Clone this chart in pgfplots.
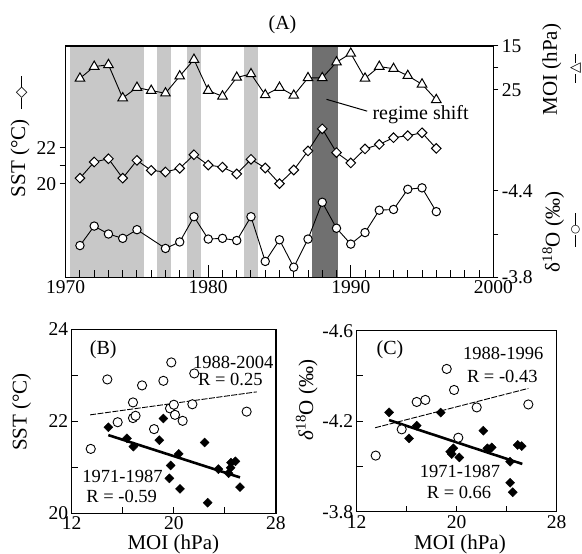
\documentclass[border=0pt]{standalone}
\usepackage{fontspec}
\setmainfont{Liberation Serif}
\newfontfamily\symfont{DejaVu Sans}
\usepackage{pgfplots}
\pgfplotsset{compat=1.18}

\definecolor{bandlight}{RGB}{200,200,200}
\definecolor{banddark}{RGB}{112,112,112}

\newcommand{\ticksize}{\fontsize{19.5}{22}\selectfont}
\newcommand{\txtsize}{\fontsize{20}{23}\selectfont}
\newcommand{\annsize}{\fontsize{18.5}{21}\selectfont}
\newcommand{\labsize}{\fontsize{21}{24}\selectfont}
% small "line-marker-line" key next to the axis titles
\newcommand{\keysym}[3]{$\vcenter{\hbox{\rule{#2}{1.1pt}}}\vcenter{\hbox{\symfont\fontsize{#3}{#3}\selectfont #1}}\vcenter{\hbox{\rule{#2}{1.1pt}}}$}

\pgfplotsset{
  base/.style={scale only axis, anchor=south west,
    /pgf/number format/assume math mode=true,
    /pgf/number format/1000 sep={},
    tick label style={font=\ticksize},
    axis line style={line width=1.4pt},
    tick style={black, line width=1pt}},
  panelA/.style={base, at={(65.7pt,276.7pt)}, width=427.6pt, height=231.3pt,
    xmin=1970, xmax=2000},
  series/.style={black, line width=0.9pt},
}

\begin{document}
\begin{tikzpicture}[x=1pt,y=1pt]
\useasboundingbox (0,0) rectangle (582,554);

% ---------- (A) frame, bands, year ticks
\begin{axis}[panelA, ymin=0, ymax=1, ytick=\empty,
    xtick={1970,1980,1990,2000}, minor x tick num=9,
    tick align=inside, xtick pos=bottom, axis on top,
    major tick length=12pt, minor tick length=7pt]
\addplot[fill=bandlight, draw=none] coordinates {(1970.3,0)(1970.3,1)(1975.5,1)(1975.5,0)} -- cycle;
\addplot[fill=bandlight, draw=none] coordinates {(1976.4,0)(1976.4,1)(1977.4,1)(1977.4,0)} -- cycle;
\addplot[fill=bandlight, draw=none] coordinates {(1978.5,0)(1978.5,1)(1979.5,1)(1979.5,0)} -- cycle;
\addplot[fill=bandlight, draw=none] coordinates {(1982.5,0)(1982.5,1)(1983.5,1)(1983.5,0)} -- cycle;
\addplot[fill=banddark, draw=none] coordinates {(1987.3,0)(1987.3,1)(1989.1,1)(1989.1,0)} -- cycle;
\end{axis}

% SST (left)
\begin{axis}[panelA, hide x axis, axis y line*=left, ymin=14.86, ymax=27.6,
    ytick={20,21,22}, yticklabels={20,,22}, tick align=outside, major tick length=6pt]
\addplot[series, mark=square*, mark size=3.4pt,
    mark options={rotate=45, fill=white, line width=1pt, solid}] coordinates {
(1971,20.32)(1972,21.21)(1973,21.39)(1974,20.32)(1975,21.30)(1976,20.75)(1977,20.66)
(1978,20.86)(1979,21.61)(1980,21.04)(1981,20.93)(1982,20.55)(1983,21.36)(1984,20.88)
(1985,20.02)(1986,20.77)(1987,21.82)(1988,23.04)(1989,21.73)(1990,21.16)(1991,21.93)
(1992,22.18)(1993,22.55)(1994,22.66)(1995,22.82)(1996,21.96)};
\end{axis}

% MOI (right, reversed)
\begin{axis}[panelA, hide x axis, axis y line*=right, y dir=reverse, ymin=15, ymax=67.9,
    ytick={15,20,25}, yticklabels={15,,25}, tick align=outside, major tick length=5pt]
\addplot[series, mark=triangle*, mark size=5.5pt,
    mark options={fill=white, line width=1pt, solid}] coordinates {
(1971,22.4)(1972,19.7)(1973,19.3)(1974,26.9)(1975,24.5)(1976,25.2)(1977,25.8)
(1978,21.9)(1979,18.1)(1980,25.2)(1981,26.5)(1982,22.2)(1983,21.4)(1984,26.2)
(1985,24.5)(1986,26.3)(1987,22.3)(1988,22.3)(1989,18.7)(1990,16.7)(1991,22.4)
(1992,19.7)(1993,20.2)(1994,21.8)(1995,23.75)(1996,27.3)};
\draw[line width=1pt] (axis cs:1988.3,27.2) -- (axis cs:1991.15,29.9);
\node[font=\txtsize] at (axis cs:1994.9,30.7) {regime shift};
\end{axis}

% d18O (right, reversed)
\begin{axis}[panelA, hide x axis, axis y line*=right, y dir=reverse, ymin=-5.403, ymax=-3.8,
    ytick={-4.4,-4.1,-3.8}, yticklabels={-4.4,,-3.8}, tick align=outside, major tick length=5pt]
\addplot[series, mark=*, mark size=4.2pt,
    mark options={fill=white, line width=1pt, solid}] coordinates {
(1971,-4.02)(1972,-4.155)(1973,-4.10)(1974,-4.07)(1975,-4.13)
(1977,-4.00)(1978,-4.045)(1979,-4.22)(1980,-4.065)(1981,-4.07)(1982,-4.055)(1983,-4.22)
(1984,-3.91)(1985,-4.06)(1986,-3.87)(1987,-4.065)(1988,-4.32)(1989,-4.14)(1990,-4.03)
(1991,-4.11)(1992,-4.265)(1993,-4.27)(1994,-4.41)(1995,-4.42)(1996,-4.255)};
\end{axis}

\node[font=\txtsize] at (282.5,529.8) {(A)};
\node[font=\labsize, rotate=90] at (20,395.7) {SST (°C)};
\node[rotate=90, inner sep=0pt] at (21.7,461.7) {\keysym{◇}{11pt}{15pt}};
\node[font=\labsize, rotate=90] at (551.7,484.5) {MOI (hPa)};
\node[rotate=90, inner sep=0pt] at (575.5,485.7) {\keysym{△}{9pt}{14pt}};
\node[font=\labsize, rotate=90] at (553.3,322) {δ\textsuperscript{18}O (‰)};
\node[rotate=90, inner sep=0pt] at (575.5,324) {\keysym{○}{12pt}{11pt}};

% ---------- (B)
\begin{axis}[base, at={(71.7pt,40.7pt)}, width=204.3pt, height=184pt,
    xmin=12, xmax=28, ymin=20, ymax=24,
    xtick={12,20,28}, minor xtick={16,24}, ytick={20,22,24}, minor ytick={21,23},
    tick align=inside, tick pos=left, major tick length=6pt, minor tick length=6pt]
\addplot[only marks, mark=*, mark size=4.6pt, mark options={fill=white, draw=black, line width=0.9pt}] coordinates {
(13.49,21.40)(14.79,22.91)(15.6,21.98)(16.8,22.41)(16.8,22.07)(17.0,22.12)(17.51,22.78)
(18.45,21.83)(19.18,22.88)(19.8,23.28)(19.7,22.28)(20.0,22.36)(20.09,22.14)(20.69,22.01)
(21.45,22.37)(21.6,23.04)(25.7,22.21)};
\addplot[only marks, mark=square*, mark size=3.2pt, mark options={rotate=45, fill=black, draw=black}] coordinates {
(14.87,21.87)(16.33,21.63)(16.83,21.45)(18.86,21.59)(19.18,22.06)(19.75,21.04)(19.65,20.76)
(20.38,21.29)(20.48,20.53)(22.41,21.54)(22.65,20.23)(23.49,20.96)(24.48,21.10)(24.82,21.13)
(24.45,20.99)(24.29,20.87)(25.18,20.57)};
\addplot[black, line width=0.9pt, dash pattern=on 6pt off 1.5pt] coordinates {(13.44,22.14)(26.49,22.64)};
\addplot[black, line width=2.6pt] coordinates {(14.87,21.70)(25.18,20.78)};
\end{axis}
\node[font=\txtsize] at (103.3,204) {(B)};
\node[font=\annsize] at (233.3,191.3) {1988-2004};
\node[font=\annsize] at (230.3,174.5) {R = 0.25};
\node[font=\annsize] at (122.5,78) {1971-1987};
\node[font=\annsize] at (121.7,57.3) {R = -0.59};
\node[font=\labsize, rotate=90] at (21.7,142) {SST (°C)};
\node[font=\labsize] at (173.3,10) {MOI (hPa)};

% ---------- (C)
\begin{axis}[base, at={(356.7pt,42.3pt)}, width=200pt, height=181pt,
    xmin=12, xmax=28, ymin=-4.6, ymax=-3.8, y dir=reverse,
    xtick={12,20,28}, minor xtick={16,24}, ytick={-4.6,-4.2,-3.8}, yticklabels={-4.6,-4.2,-3.8},
    minor ytick={-4.4,-4.0},
    tick align=inside, tick pos=left, major tick length=6pt, minor tick length=6pt]
\addplot[only marks, mark=*, mark size=4.6pt, mark options={fill=white, draw=black, line width=0.9pt}] coordinates {
(13.52,-4.048)(15.6,-4.164)(16.8,-4.285)(17.49,-4.294)(19.2,-4.431)(19.79,-4.338)
(20.13,-4.127)(21.6,-4.261)(25.73,-4.274)};
\addplot[only marks, mark=square*, mark size=3.2pt, mark options={rotate=45, fill=black, draw=black}] coordinates {
(14.59,-4.239)(16.19,-4.124)(16.8,-4.180)(18.72,-4.238)(19.47,-4.065)(19.73,-4.080)(19.6,-4.055)
(20.21,-4.040)(22.13,-4.158)(22.45,-4.080)(22.8,-4.084)(22.6,-4.075)(24.27,-4.021)(24.27,-3.928)
(24.48,-3.886)(24.88,-4.095)(25.2,-4.090)};
\addplot[black, line width=0.9pt, dash pattern=on 6pt off 1.5pt] coordinates {(13.47,-4.171)(25.73,-4.345)};
\addplot[black, line width=2.6pt] coordinates {(14.59,-4.205)(25.25,-4.011)};
\end{axis}
\node[font=\txtsize] at (390,204) {(C)};
\node[font=\annsize] at (503.3,200.7) {1988-1996};
\node[font=\annsize] at (502.3,178) {R = -0.43};
\node[font=\annsize] at (460,82.3) {1971-1987};
\node[font=\annsize] at (459,61.3) {R = 0.66};
\node[font=\labsize, rotate=90] at (306.7,154) {\textit{δ}\textsuperscript{18}O (‰)};
\node[font=\labsize] at (460,10) {MOI (hPa)};
\end{tikzpicture}
\end{document}
